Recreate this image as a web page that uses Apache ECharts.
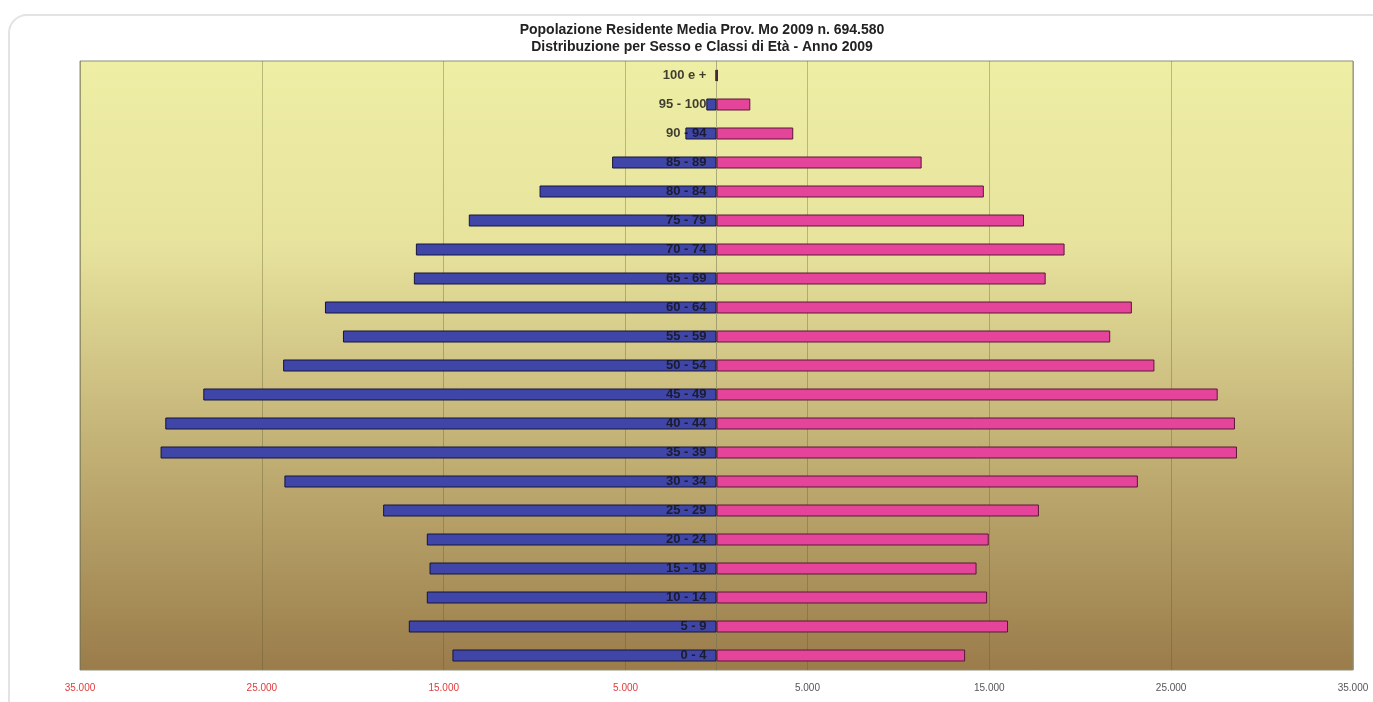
<!DOCTYPE html>
<html>
<head>
<meta charset="utf-8">
<title>Popolazione Residente Media Prov. Mo 2009</title>
<script src="https://cdn.jsdelivr.net/npm/echarts@6/dist/echarts.min.js"></script>
<style>
  html, body { margin: 0; padding: 0; background: #ffffff; }
  #chart { width: 1373px; height: 702px; }
</style>
</head>
<body>
<div id="chart"></div>
<script>
// Age classes, bottom to top
const classiEta = ['0 - 4', '5 - 9', '10 - 14', '15 - 19', '20 - 24', '25 - 29', '30 - 34',
  '35 - 39', '40 - 44', '45 - 49', '50 - 54', '55 - 59', '60 - 64', '65 - 69', '70 - 74',
  '75 - 79', '80 - 84', '85 - 89', '90 - 94', '95 - 100', '100 e +'];

// Resident population by sex, same order as the age classes
const maschi = [14520, 16920, 15930, 15780, 15930, 18330, 23760, 30570, 30310, 28220,
  23830, 20540, 21530, 16640, 16530, 13620, 9730, 5740, 1710, 560, 50];
const femmine = [13670, 16030, 14880, 14300, 14970, 17730, 23170, 28620, 28510, 27560,
  24080, 21650, 22840, 18100, 19140, 16910, 14700, 11280, 4220, 1860, 80];

// Tick values of the population axis
const tickValori = [-35000, -25000, -15000, -5000, 5000, 15000, 25000, 35000];

const titolo = ['Popolazione Residente Media Prov. Mo 2009 n. 694.580',
  'Distribuzione per Sesso e Classi di Età - Anno 2009'];

function formatMigliaia(v) {
  return Math.abs(v).toString().replace(/\B(?=(\d{3})+(?!\d))/g, '.');
}

const chart = echarts.init(document.getElementById('chart'), null, { renderer: 'canvas' });

chart.setOption({
  animation: false,
  backgroundColor: '#ffffff',
  graphic: [{
    type: 'rect',
    z: -10,
    silent: true,
    shape: { x: 9, y: 15, width: 1420, height: 740, r: 18 },
    style: { fill: '#ffffff', stroke: '#e3e3e3', lineWidth: 2 }
  }],
  title: {
    text: titolo.join('\n'),
    left: 697,
    textAlign: 'center',
    top: 17,
    textStyle: {
      fontFamily: 'Liberation Sans, Arial, sans-serif',
      fontSize: 14,
      fontWeight: 'bold',
      color: '#222222',
      lineHeight: 17
    }
  },
  grid: {
    left: 80,
    right: 20,
    top: 61,
    bottom: 32,
    show: true,
    borderColor: '#8f8f78',
    borderWidth: 1,
    backgroundColor: new echarts.graphic.LinearGradient(0, 0, 0, 1, [
      { offset: 0, color: '#eeeea5' },
      { offset: 0.3, color: '#e7e39d' },
      { offset: 0.62, color: '#c4b377' },
      { offset: 1, color: '#9a7c4a' }
    ])
  },
  xAxis: {
    type: 'value',
    min: -35000,
    max: 35000,
    axisLine: { show: false },
    axisTick: { show: false, customValues: tickValori },
    axisLabel: {
      customValues: tickValori,
      margin: 13,
      fontFamily: 'Liberation Sans, Arial, sans-serif',
      fontSize: 10,
      formatter: formatMigliaia,
      color: function (v) { return v < 0 ? '#e03c3c' : '#555555'; }
    },
    splitLine: { show: true, lineStyle: { color: 'rgba(90, 90, 50, 0.35)', width: 1 } }
  },
  yAxis: {
    type: 'category',
    data: classiEta,
    axisLine: { onZero: true, lineStyle: { color: 'rgba(110, 110, 80, 0.5)', width: 1 } },
    axisTick: { show: false },
    axisLabel: { show: false },
    splitLine: { show: false }
  },
  series: [
    {
      name: 'Maschi',
      type: 'bar',
      barWidth: 12,
      barGap: '-100%',
      data: maschi.map(v => -v),
      itemStyle: { color: '#4046a8', borderColor: '#15153a', borderWidth: 1 }
    },
    {
      name: 'Femmine',
      type: 'bar',
      barWidth: 12,
      barGap: '-100%',
      data: femmine,
      itemStyle: { color: '#e4449a', borderColor: '#5a1836', borderWidth: 1 }
    },
    {
      // Age-class labels sitting just left of the zero line, over the bars
      name: 'Classi',
      type: 'scatter',
      z: 10,
      silent: true,
      symbol: 'circle',
      symbolSize: 0.1,
      itemStyle: { color: 'rgba(0,0,0,0)' },
      data: classiEta.map(c => [0, c]),
      label: {
        show: true,
        position: 'left',
        distance: 10,
        formatter: p => classiEta[p.dataIndex],
        fontFamily: 'Liberation Sans, Arial, sans-serif',
        fontSize: 13,
        fontWeight: 'bold',
        color: '#111111'
      }
    }
  ]
});
</script>
</body>
</html>
